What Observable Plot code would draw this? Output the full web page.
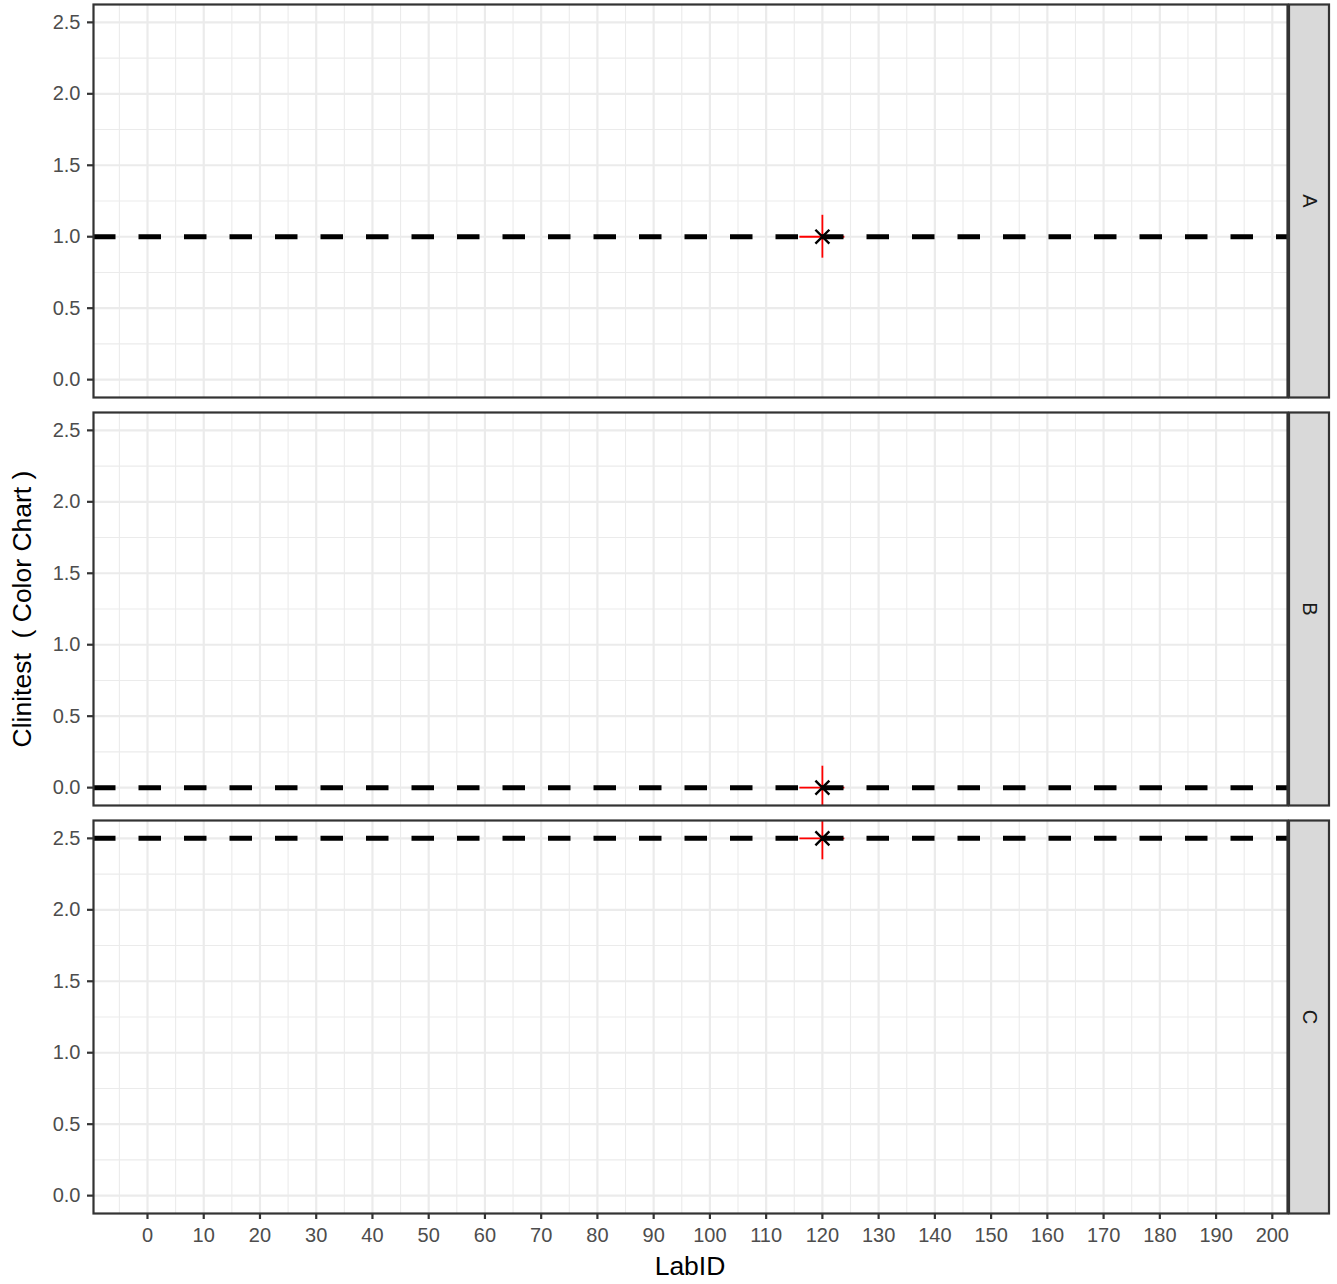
<!DOCTYPE html>
<html><head><meta charset="utf-8">
<script src="https://cdn.jsdelivr.net/npm/d3@7"></script>
<script src="https://cdn.jsdelivr.net/npm/@observablehq/plot@0.6"></script>
<style>body{margin:0;background:#fff;}</style>
</head><body><div id="chart"></div>
<script>
// ---- data ----
const panels = ["A", "B", "C"];
const refLevel = [1, 0, 2.5];
const labId = [120, 120, 120];
const measured = [1, 0, 2.5];
const labIdErr = [4, 4, 4];
const measuredErr = [0.15, 0.15, 0.15];
const xTicks = [0, 10, 20, 30, 40, 50, 60, 70, 80, 90, 100, 110, 120, 130, 140, 150, 160, 170, 180, 190, 200];
const xMinorTicks = [-5, 5, 15, 25, 35, 45, 55, 65, 75, 85, 95, 105, 115, 125, 135, 145, 155, 165, 175, 185, 195];
const yTicks = [0, 0.5, 1, 1.5, 2, 2.5];
const yMinorTicks = [0.25, 0.75, 1.25, 1.75, 2.25];
const xLabel = "LabID";
const yLabel = "Clinitest  ( Color Chart )";

// ---- layout ----
const W = 1337, H = 1284, mL = 93, mR = 50, mT = 4, mB = 70;
const panelW = W - mL - mR;
const rows = panels.map((p, i) => ({
  panel: p, ref: refLevel[i], x: labId[i], y: measured[i], xe: labIdErr[i], ye: measuredErr[i]
}));

const grid = "#EBEBEB";
const chart = Plot.plot({
  width: W, height: H,
  marginLeft: mL, marginRight: mR, marginTop: mT, marginBottom: mB,
  style: {fontFamily: "'Liberation Sans', Arial, sans-serif", fontSize: "20px", background: "#fff", overflow: "visible"},
  x: {domain: [-9.6, 202.7]},
  y: {domain: [-0.125, 2.625]},
  fy: {domain: panels, paddingInner: 15 / 408.3, paddingOuter: 0, axis: null},
  marks: [
    Plot.gridX(xMinorTicks, {stroke: grid, strokeOpacity: 1, strokeWidth: 1.1}),
    Plot.gridY(yMinorTicks, {stroke: grid, strokeOpacity: 1, strokeWidth: 1.1}),
    Plot.gridX(xTicks, {stroke: grid, strokeOpacity: 1, strokeWidth: 2.2}),
    Plot.gridY(yTicks, {stroke: grid, strokeOpacity: 1, strokeWidth: 2.2}),
    Plot.ruleX(rows, {fy: "panel", x: "x", y1: d => d.y - d.ye, y2: d => d.y + d.ye, stroke: "#FF0000", strokeWidth: 1.8, clip: true}),
    Plot.ruleY(rows, {fy: "panel", y: "y", x1: d => d.x - d.xe, x2: d => d.x + d.xe, stroke: "#FF0000", strokeWidth: 1.8, clip: true}),
    Plot.ruleY(rows, {fy: "panel", y: "ref", stroke: "#000", strokeWidth: 5, strokeDasharray: "22.5,23", clip: true}),
    Plot.dot(rows, {fy: "panel", x: "x", y: "y", symbol: "times", r: 6.4, stroke: "#000", strokeWidth: 2.4}),
    Plot.frame({stroke: "#333", strokeWidth: 2.2}),
    Plot.frame({fill: "#D9D9D9", stroke: "#333", strokeWidth: 2.2, insetLeft: panelW + 1.5, insetRight: -41.5}),
    Plot.text(rows, {fy: "panel", text: "panel", frameAnchor: "right", textAnchor: "middle", lineAnchor: "middle", dx: 21.5, rotate: 90, fontSize: 20, fill: "#1A1A1A"}),
    Plot.axisY(yTicks, {tickFormat: d => d.toFixed(1), tickSize: 6, tickPadding: 7, stroke: "#333", strokeWidth: 2.2, fill: "#4D4D4D", label: null, fontSize: 20}),
    Plot.axisX(xTicks, {tickFormat: d => String(d), tickSize: 6, tickPadding: 8, stroke: "#333", strokeWidth: 2.2, fill: "#4D4D4D", label: null, fontSize: 20})
  ]
});

const svg = d3.select(chart);
svg.append("text")
  .attr("transform", `translate(31,${(mT + H - mB) / 2}) rotate(-90)`)
  .attr("text-anchor", "middle")
  .attr("font-size", 26.5)
  .attr("fill", "#000")
  .style("white-space", "pre")
  .text(yLabel);
svg.append("text")
  .attr("x", mL + panelW / 2)
  .attr("y", 1275)
  .attr("text-anchor", "middle")
  .attr("font-size", 26.5)
  .attr("fill", "#000")
  .text(xLabel);

document.getElementById("chart").appendChild(chart);
</script>
</body></html>
